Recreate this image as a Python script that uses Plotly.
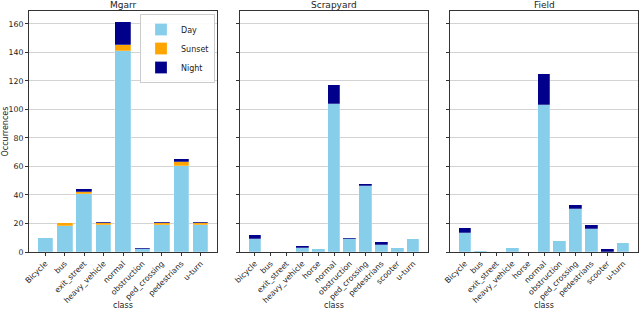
import plotly.graph_objects as go

# ---- data ----
mgarr_classes = ["Bicycle", "bus", "exit_street", "heavy_vehicle", "normal",
                 "obstruction", "ped_crossing", "pedestrians", "u-turn"]
mgarr_day = [10, 18, 41, 19, 141, 2, 19, 60, 19]
mgarr_sunset = [0, 2, 1, 1, 4, 0, 1, 3, 1]
mgarr_night = [0, 0, 2, 1, 16, 1, 1, 2, 1]

scrap_classes = ["bicycle", "bus", "exit_street", "heavy_vehicle", "horse", "normal",
                 "obstruction", "ped_crossing", "pedestrians", "scooter", "u-turn"]
scrap_day = [9, 0, 0, 3, 2, 104, 9, 46, 5, 3, 9]
scrap_sunset = [0, 0, 0, 0, 0, 0, 0, 0, 0, 0, 0]
scrap_night = [3, 0, 0, 1, 0, 13, 1, 2, 2, 0, 0]

field_classes = ["Bicycle", "bus", "exit_street", "heavy_vehicle", "horse", "normal",
                 "obstruction", "ped_crossing", "pedestrians", "scooter", "u-turn"]
field_day = [13, 1, 0, 3, 0, 103, 8, 30, 16, 0, 6]
field_sunset = [0, 0, 0, 0, 0, 0, 0, 0, 0, 0, 0]
field_night = [4, 0, 0, 0, 0, 22, 0, 3, 3, 2, 0]

titles = ["Mgarr", "Scrapyard", "Field"]
series_names = ["Day", "Sunset", "Night"]
colors = ["#87CEEB", "#FFA500", "#00008B"]

panels = [
    (mgarr_classes, [mgarr_day, mgarr_sunset, mgarr_night]),
    (scrap_classes, [scrap_day, scrap_sunset, scrap_night]),
    (field_classes, [field_day, field_sunset, field_night]),
]

FONT = "DejaVu Sans"
TXT = "#222222"
fig = go.Figure()

L, R, T, B = 29, 2, 11, 58
PW = 640 - L - R
PH = 310 - T - B

def px_x(p):
    return (p - L) / PW

domains = [[px_x(29), px_x(217)], [px_x(240), px_x(428)], [px_x(450), px_x(638)]]
axis_color = "#333333"

for i, (cats, series) in enumerate(panels):
    xa = "x" if i == 0 else f"x{i+1}"
    ya = "y" if i == 0 else f"y{i+1}"
    for name, vals, col in zip(series_names, series, colors):
        fig.add_trace(go.Bar(
            x=list(range(len(cats))), y=vals, name=name,
            marker=dict(color=col, line=dict(color="rgba(255,255,255,0.8)", width=0.3)),
            width=0.8, xaxis=xa, yaxis=ya, showlegend=(i == 0),
            legendgroup=name,
        ))
    n = len(cats)
    key = "xaxis" if i == 0 else f"xaxis{i+1}"
    ykey = "yaxis" if i == 0 else f"yaxis{i+1}"
    fig.layout[key] = dict(
        domain=domains[i], anchor=ya, automargin=False,
        range=[-0.4 - 0.05 * (n - 0.2), n - 1 + 0.4 + 0.05 * (n - 0.2)],
        tickmode="array", tickvals=list(range(n)), ticktext=cats,
        tickangle=-45, ticks="outside", ticklen=3, tickcolor=axis_color,
        showline=True, linecolor=axis_color, linewidth=1, mirror=True,
        showgrid=False, zeroline=False,
        tickfont=dict(family=FONT, size=7.8, color=TXT),
    )
    fig.layout[ykey] = dict(
        domain=[0, 1], anchor=xa, range=[0, 169], automargin=False,
        tickvals=[0, 20, 40, 60, 80, 100, 120, 140, 160],
        ticks="outside", ticklen=3, tickcolor=axis_color,
        showticklabels=(i == 0),
        showline=True, linecolor=axis_color, linewidth=1, mirror=True,
        showgrid=True, gridcolor="#d3d3d3", gridwidth=1, zeroline=False,
        tickfont=dict(family=FONT, size=7.8, color=TXT),
    )
    if i > 0:
        fig.layout[ykey]["matches"] = "y"
    cx = (domains[i][0] + domains[i][1]) / 2
    fig.add_annotation(
        text=titles[i], xref="paper", yref="paper",
        x=cx, y=1.0, xanchor="center", yanchor="bottom",
        showarrow=False, yshift=-1,
        font=dict(family=FONT, size=9, color=TXT),
    )
    fig.add_annotation(
        text="class", xref="paper", yref="paper",
        x=cx, y=-(305.5 - (T + PH)) / PH, xanchor="center", yanchor="middle",
        showarrow=False,
        font=dict(family=FONT, size=8, color=TXT),
    )

fig.add_annotation(
    text="Occurrences", xref="paper", yref="paper",
    x=-(L - 5) / PW, y=0.5, xanchor="center", yanchor="middle",
    textangle=-90, showarrow=False,
    font=dict(family=FONT, size=8, color=TXT),
)

fig.update_layout(
    width=640, height=310,
    margin=dict(l=L, r=R, t=T, b=B, autoexpand=False),
    barmode="stack", bargap=0,
    plot_bgcolor="white", paper_bgcolor="white",
    font=dict(family=FONT, size=8, color=TXT),
    legend=dict(
        x=px_x(215), y=1 - 3 / PH, xanchor="right", yanchor="top",
        bgcolor="rgba(255,255,255,0.9)", bordercolor="#cccccc", borderwidth=1,
        font=dict(family=FONT, size=8), tracegroupgap=0,
        itemwidth=30,
    ),
)

fig.write_html(
    "out.html",
    config={"displayModeBar": False},
    post_script="document.body.style.margin='0';document.body.style.overflow='hidden';",
)
